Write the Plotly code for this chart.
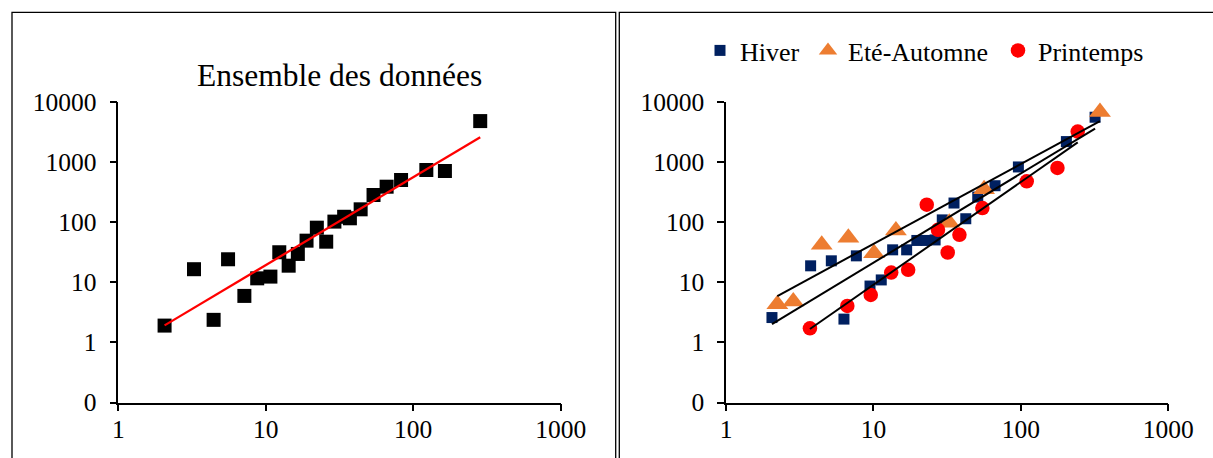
import numpy as np
import plotly.graph_objects as go

# --- Data -------------------------------------------------------------------
# Ensemble des données
all_x = [2.06, 3.26, 4.43, 5.55, 7.16, 8.75, 10.75, 12.35, 14.3, 16.5, 18.9, 22.2,
         25.7, 29.2, 34.0, 37.2, 44.0, 53.8, 66.0, 82.7, 122.7, 164.0, 284.6]
all_y = [1.91, 16.6, 2.38, 24.3, 5.96, 11.7, 12.5, 31.8, 19.0, 29.8, 49.6, 81.6,
         47.7, 103, 124, 117, 165, 286, 393, 508, 745, 717, 4865]

# Saisons
hiver_x = [2.05, 3.75, 5.18, 6.31, 7.66, 9.48, 11.3, 13.5, 16.8, 19.7, 22.7, 26.2,
           29.3, 35.2, 42.3, 51.0, 66.8, 96.2, 203.6, 318.7]
hiver_y = [2.6, 18.9, 22.9, 2.45, 27.7, 8.7, 11.0, 34.9, 34.9, 50, 50, 51,
           110, 210, 115, 264, 408, 838, 2217, 5640]

ete_x = [2.23, 2.86, 4.46, 6.76, 10.1, 14.2, 32.7, 56.3, 344]
ete_y = [4.35, 4.8, 42.3, 55.3, 30.7, 73.3, 98.5, 357, 6890]

printemps_x = [3.71, 6.65, 9.59, 13.2, 17.2, 23.0, 27.4, 31.9, 38.3, 54.8, 109.6, 177, 243]
printemps_y = [1.72, 4.05, 6.18, 14.6, 16.2, 197, 75.2, 31.5, 62.1, 173, 482, 806, 3258]

# Axis ticks
x_tickvals = [1, 10, 100, 1000]
x_ticktext = ["1", "10", "100", "1000"]
y_tickvals = [0.1, 1, 10, 100, 1000, 10000]
y_ticktext = ["0", "1", "10", "100", "1000", "10000"]

W, H = 1213, 458
FONT = "Liberation Serif"


def power_fit(x, y):
    """Power-law trend line (least squares in log-log space) over the data span."""
    lx, ly = np.log10(x), np.log10(y)
    b, a = np.polyfit(lx, ly, 1)
    xs = np.array([min(x), max(x)])
    return xs, 10 ** (a + b * np.log10(xs))


def px_x(v):
    return v / W


def px_y(v):
    return 1 - v / H


fig = go.Figure()

# Left panel: all data
fig.add_trace(go.Scatter(x=all_x, y=all_y, mode="markers", xaxis="x", yaxis="y",
                         marker=dict(symbol="square", size=14, color="black"),
                         showlegend=False, cliponaxis=False))
fx, fy = power_fit(all_x, all_y)
fig.add_trace(go.Scatter(x=fx, y=fy, mode="lines", xaxis="x", yaxis="y",
                         line=dict(color="#FF0000", width=2.25), showlegend=False))

# Right panel: seasons (one legend entry each, placed side by side)
fig.add_trace(go.Scatter(x=hiver_x, y=hiver_y, mode="markers", name="Hiver",
                         xaxis="x2", yaxis="y2", cliponaxis=False, legend="legend",
                         marker=dict(symbol="square", size=11, color="#002060")))
fig.add_trace(go.Scatter(x=ete_x, y=ete_y, mode="markers", name="Eté-Automne",
                         xaxis="x2", yaxis="y2", cliponaxis=False, legend="legend2",
                         marker=dict(symbol="triangle-up", size=19, color="#ED7D31")))
fig.add_trace(go.Scatter(x=printemps_x, y=printemps_y, mode="markers", name="Printemps",
                         xaxis="x2", yaxis="y2", cliponaxis=False, legend="legend3",
                         marker=dict(symbol="circle", size=14.5, color="#FF0000")))
for sx, sy in [(hiver_x, hiver_y), (ete_x, ete_y), (printemps_x, printemps_y)]:
    tx, ty = power_fit(sx, sy)
    fig.add_trace(go.Scatter(x=tx, y=ty, mode="lines", xaxis="x2", yaxis="y2",
                             line=dict(color="black", width=2), showlegend=False))

common = dict(type="log", showline=True, linecolor="black", linewidth=1.5,
              ticks="outside", ticklen=7, tickwidth=1.5, tickcolor="black",
              showgrid=False, zeroline=False, automargin=False,
              tickfont=dict(family=FONT, size=25.5, color="black"))
xcommon = dict(common, range=[0, 3], tickvals=x_tickvals, ticktext=x_ticktext,
               ticklabelstandoff=-4)
ycommon = dict(common, range=[-1, 4], tickvals=y_tickvals, ticktext=y_ticktext,
               ticklabelstandoff=8, domain=[px_y(402.5), px_y(102.3)])

legend_style = dict(orientation="h", xanchor="left", y=px_y(50.5), yanchor="middle",
                    font=dict(family=FONT, size=26, color="black"),
                    bgcolor="rgba(0,0,0,0)")

fig.update_layout(
    width=W, height=H,
    margin=dict(l=0, r=0, t=0, b=0, pad=0, autoexpand=False),
    paper_bgcolor="white", plot_bgcolor="white",
    xaxis=dict(xcommon, domain=[px_x(118.3), px_x(560.7)], anchor="y"),
    yaxis=dict(ycommon, anchor="x"),
    xaxis2=dict(xcommon, domain=[px_x(726), px_x(1168.3)], anchor="y2"),
    yaxis2=dict(ycommon, anchor="x2"),
    legend=dict(legend_style, x=px_x(700)),
    legend2=dict(legend_style, x=px_x(808)),
    legend3=dict(legend_style, x=px_x(998)),
    annotations=[dict(text="Ensemble des données", xref="x domain", yref="paper",
                      x=0.5, y=px_y(75.5), xanchor="center", yanchor="middle",
                      showarrow=False,
                      font=dict(family=FONT, size=31.5, color="black"))],
    shapes=[
        dict(type="rect", xref="paper", yref="paper",
             x0=px_x(12), x1=px_x(615.7), y0=-0.2, y1=px_y(12.3),
             line=dict(color="black", width=1.3)),
        dict(type="rect", xref="paper", yref="paper",
             x0=px_x(619.3), x1=1.2, y0=-0.2, y1=px_y(12.3),
             line=dict(color="black", width=1.3)),
    ],
)

fig.write_html("out.html")
